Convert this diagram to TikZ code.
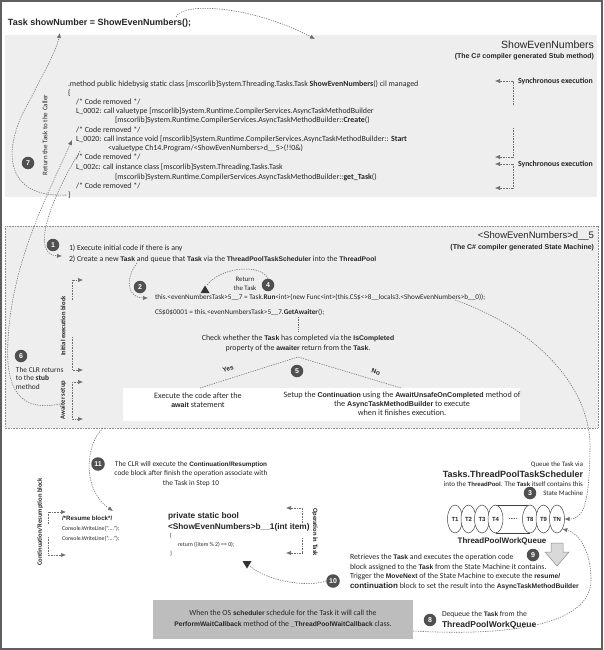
\documentclass[tikz,border=0pt]{standalone}
\usepackage{fontspec}
\setmainfont{Carlito}
\newfontfamily\arl{Liberation Sans}
\newfontfamily\arlk[Scale=0.86]{Liberation Sans}
\usetikzlibrary{arrows.meta,shapes.geometric}
\newcommand\kb[1]{{\arlk\bfseries #1}}
\definecolor{framec}{HTML}{5F5F5F}
\definecolor{panel}{HTML}{EEEEEE}
\definecolor{badgec}{HTML}{505050}
\definecolor{linec}{HTML}{6E6E6E}
\definecolor{txt}{HTML}{262626}
\definecolor{greybox}{HTML}{BDBDBD}
\tikzset{
 every node/.style={inner sep=0pt, outer sep=0pt, text=txt},
 code/.style={anchor=west, font=\fontsize{7.9}{8}\selectfont},
 smallcode/.style={anchor=west, font=\fontsize{5.8}{7}\selectfont},
 badge/.style={circle, fill=badgec, text=white, minimum size=12.5pt, inner sep=0pt, font=\arl\bfseries\fontsize{7}{7}\selectfont},
 conn/.style={draw=linec, line width=0.55pt, dash pattern=on 1.3pt off 1.1pt, -{Latex[length=5pt,width=4.2pt]}},
 plainconn/.style={draw=linec, line width=0.55pt, dash pattern=on 1.3pt off 1.1pt},
 brk/.style={draw=linec, line width=0.55pt, dash pattern=on 0.8pt off 0.8pt},
 brkarrow/.style={brk, -{Latex[length=5pt,width=4.2pt]}},
 vlab/.style={font=\bfseries\fontsize{6.6}{7}\selectfont},
 qell/.style={ellipse, draw=black!75, fill=white, line width=0.5pt, minimum width=15pt, minimum height=28pt, inner sep=0pt, font=\arl\bfseries\fontsize{6}{6}\selectfont},
}
\begin{document}
\begin{tikzpicture}[x=1pt,y=-1pt]
\useasboundingbox (0,0) rectangle (603,650);
\fill[white] (0,0) rectangle (603,650);
\draw[framec, line width=1.6pt] (1,1) rectangle (602,649);

% ---------------- stub panel
\fill[panel] (5,35) rectangle (597,197);
\node[font=\arl\bfseries\fontsize{9}{10}\selectfont, anchor=west] (title) at (8,23) {Task showNumber = ShowEvenNumbers();};
\node[font=\arl\fontsize{10.5}{11}\selectfont, anchor=east] (stubtitle) at (594,45) {ShowEvenNumbers};
\node[font=\arl\bfseries\fontsize{7}{8}\selectfont, anchor=east] (stubsub) at (594,57) {(The C\# compiler generated Stub method)};

\node[code] (c1) at (68,84) {.method public hidebysig static class [mscorlib]System.Threading.Tasks.Task \textbf{ShowEvenNumbers}() cil managed};
\node[code] (c2) at (68,93) {\{};
\node[code] (c3) at (76,102) {/* Code removed */};
\node[code] (c4) at (76,111) {L\_0002: call valuetype [mscorlib]System.Runtime.CompilerServices.AsyncTaskMethodBuilder};
\node[code] (c5) at (115,120) {[mscorlib]System.Runtime.CompilerServices.AsyncTaskMethodBuilder::\textbf{Create}()};
\node[code] (c6) at (76,130) {/* Code removed */};
\node[code] (c7) at (76,139) {L\_0020: call instance void [mscorlib]System.Runtime.CompilerServices.AsyncTaskMethodBuilder:: \textbf{Start}};
\node[code] (c8) at (108,148) {<valuetype Ch14.Program/<ShowEvenNumbers>d\_\_5>(!!0\&)};
\node[code] (c9) at (76,157) {/* Code removed */};
\node[code] (c10) at (76,167) {L\_002c: call instance class [mscorlib]System.Threading.Tasks.Task};
\node[code] (c11) at (115,177) {[mscorlib]System.Runtime.CompilerServices.AsyncTaskMethodBuilder::\textbf{get\_Task}()};
\node[code] (c12) at (76,186) {/* Code removed */};
\node[code] (c13) at (68,195) {\}};

\node[font=\bfseries\fontsize{7.8}{8}\selectfont, anchor=west] (sync1) at (518,81) {Synchronous execution};
\node[font=\bfseries\fontsize{7.8}{8}\selectfont, anchor=west] (sync2) at (518,164) {Synchronous execution};
\draw[brkarrow] (513,105) -- (513,81) -- (495,81);
\draw[brkarrow] (513,128) -- (513,157) -- (495,157);
\draw[brkarrow] (513,164) -- (495,164);
\draw[brkarrow] (513,164) -- (513,188) -- (495,188);

\node[rotate=90, font=\fontsize{7}{8}\selectfont] (rettask) at (45,135) {Return the Task to the Caller};
\node[badge] (b7) at (28,163) {7};

% ---------------- state machine panel
\draw[draw=black!45, fill=panel, dash pattern=on 0.8pt off 0.8pt, line width=0.5pt] (5,226) rectangle (598,428);
\node[font=\arl\fontsize{9.5}{10}\selectfont, anchor=east] (smtitle) at (594,236) {<ShowEvenNumbers>d\_\_5};
\node[font=\arl\bfseries\fontsize{7}{8}\selectfont, anchor=east] (smsub) at (594,248) {(The C\# compiler generated State Machine)};

\node[badge] (b1) at (53,245) {1};
\node[anchor=west, font=\fontsize{7.8}{8}\selectfont] (s1) at (69,248) {1) Execute initial code if there is any};
\node[anchor=west, font=\fontsize{7.8}{8}\selectfont] (s2) at (69,259) {2) Create a new \kb{Task} and queue that \kb{Task} via the \kb{ThreadPoolTaskScheduler} into the \kb{ThreadPool}};

\node[badge] (b2) at (140,287) {2};
\node[badge] (b4) at (268,285) {4};
\node[align=center, font=\fontsize{6.8}{8.8}\selectfont] (rtn) at (245,284) {Return\\the Task};
\fill[black!80] (200.5,293) -- (209.5,293) -- (205,285.5) -- cycle;
\coordinate (tri4) at (207,285);
\node[anchor=west, font=\fontsize{7.2}{8}\selectfont] (runl) at (155,297) {this.<evenNumbersTask>5\_\_7 = Task.\textbf{Run}<int>(new Func<int>(this.CS\$<>8\_\_locals3.<ShowEvenNumbers>b\_\_0));};
\node[anchor=west, font=\fontsize{7.2}{8}\selectfont] (awl) at (155,312) {CS\$0\$0001 = this.<evenNumbersTask>5\_\_7.\textbf{GetAwaiter}();};

\draw[plainconn] (298,317) -- (298,332);
\node[align=center, font=\fontsize{7.9}{10}\selectfont] (check) at (298,343) {Check whether the \kb{Task} has completed via the \kb{IsCompleted}\\property of the \kb{awaiter} return from the \kb{Task}.};

\fill[white] (123,388) rectangle (520,421);
\coordinate (apex) at (298,357);
\coordinate (yesend) at (200,388);
\coordinate (noend) at (401,388);
\draw[plainconn] (yesend) -- (apex) -- (noend);
\node[badge] (b5) at (297,371) {5};
\node[rotate=17, font=\arl\bfseries\fontsize{6.5}{7}\selectfont] (yes) at (228,369) {Yes};
\node[rotate=-17, font=\arl\bfseries\fontsize{6.5}{7}\selectfont] (no) at (376,372) {No};
\node[align=center, font=\fontsize{8.2}{9}\selectfont] (exec) at (198,400) {Execute the code after the\\\kb{await} statement};
\node[align=center, font=\fontsize{8.2}{9}\selectfont] (setup) at (402,404) {Setup the \kb{Continuation} using the \kb{AwaitUnsafeOnCompleted} method of\\the \kb{AsyncTaskMethodBuilder} to execute\\when it finishes execution.};

% brackets left
\draw[brkarrow] (72,300) -- (72,280) -- (83,280);
\draw[brkarrow] (72,337) -- (72,370) -- (83,370);
\node[rotate=90, vlab] (initlab) at (63,326) {Initial execution block};
\draw[brkarrow] (72,382) -- (83,382);
\draw[brkarrow] (72,382) -- (72,419) -- (83,419);
\node[rotate=90, vlab] (awlab) at (63,400) {Awaiter setup};

\node[badge] (b6) at (21,356) {6};
\node[anchor=north west, align=left, font=\fontsize{7.4}{8.7}\selectfont] (clr) at (16,367) {The CLR returns\\to the \textbf{stub}\\method};

% ---------------- lower area
\node[badge, minimum size=13.5pt] (b11) at (98,464) {11};
\node[align=center, font=\fontsize{7.4}{9.5}\selectfont] (s11) at (191,474) {The CLR will execute the \kb{Continuation/Resumption}\\code block after finish the operation associate with\\the Task in Step 10};

\node[rotate=90, vlab] (contlab) at (40,522) {Continuation/Resumption block};
\draw[brkarrow] (48,524) -- (48,512) -- (66,512);
\draw[brkarrow] (48,537) -- (48,555) -- (66,555);
\node[anchor=west, font=\arl\bfseries\fontsize{6.2}{7}\selectfont] (rb1) at (62,518) {/*Resume block*/};
\node[smallcode] (rb2) at (62,529) {Console.WriteLine(``....'');};
\node[smallcode] (rb3) at (62,539) {Console.WriteLine(``....'');};

\node[anchor=west, font=\arl\bfseries\fontsize{8.3}{9}\selectfont] (op1) at (168,516) {private static bool};
\node[anchor=west, font=\arl\bfseries\fontsize{8.3}{9}\selectfont] (op2) at (168,527) {<ShowEvenNumbers>b\_\_1(int item)};
\node[smallcode] (op3) at (170,536) {\{};
\node[smallcode] (op4) at (178,545) {return ((item \% 2) == 0);};
\node[smallcode] (op5) at (170,554) {\}};
\draw[brkarrow] (302,523) -- (302,508) -- (286,508);
\draw[brkarrow] (302,538) -- (302,553) -- (286,553);
\node[rotate=-90, vlab] (oplab) at (315,532) {Operation in Task};
\fill[black!80] (242.5,561) -- (251.5,561) -- (247,568.5) -- cycle;
\coordinate (tri10) at (250,566);

% queue
\node[anchor=east, font=\fontsize{6.8}{7}\selectfont] (q1) at (583,465) {Queue the Task via};
\node[anchor=east, font=\arl\bfseries\fontsize{9}{9}\selectfont] (q2) at (583,474.5) {Tasks.ThreadPoolTaskScheduler};
\node[anchor=east, font=\fontsize{7}{7}\selectfont] (q3) at (583,484) {into the \kb{ThreadPool}. The \kb{Task} itself contains this};
\node[anchor=east, font=\fontsize{6.8}{7}\selectfont] (q4) at (583,493) {State Machine};
\node[badge] (b3) at (530,493) {3};

\draw[black!75, line width=0.5pt] (495.5,505) -- (530,505);
\draw[black!75, line width=0.5pt] (495.5,533) -- (530,533);
\node[qell] (t1) at (455,519) {T1};
\node[qell] (t2) at (468.5,519) {T2};
\node[qell] (t3) at (482,519) {T3};
\node[qell] (t4) at (495.5,519) {T4};
\node[font=\arl\bfseries\fontsize{6}{6}\selectfont] (tdots) at (513,519) {.....};
\node[qell] (t8) at (530,519) {T8};
\node[qell] (t9) at (543.5,519) {T9};
\node[qell] (tn) at (557,519) {TN};
\node[font=\arl\bfseries\fontsize{8}{8}\selectfont] (wq) at (502,541) {ThreadPoolWorkQueue};

\filldraw[fill=black!15, draw=black!45, line width=0.5pt] (551,543) -- (563,543) -- (563,552) -- (569,552) -- (557,566) -- (545,552) -- (551,552) -- cycle;
\node[badge] (b9) at (533,555) {9};

\node[anchor=west, font=\fontsize{7.8}{8}\selectfont] (r1) at (350,557) {Retrieves the \kb{Task} and executes the operation code};
\node[anchor=west, font=\fontsize{7.8}{8}\selectfont] (r2) at (350,567) {block assigned to the \kb{Task} from the State Machine it contains.};
\node[anchor=west, font=\fontsize{7.8}{8}\selectfont] (r3) at (350,576.5) {Trigger the \kb{MoveNext} of the State Machine to execute the \kb{resume/}};
\node[anchor=west, font=\fontsize{7.8}{8}\selectfont] (r4) at (350,586.5) {{\arl\bfseries\fontsize{8}{8}\selectfont continuation} block to set the result into the \kb{AsyncTaskMethodBuilder}};
\node[badge, minimum size=13.5pt] (b10) at (333,581) {10};

\fill[greybox] (153,600) rectangle (413,639);
\node[align=center, font=\fontsize{7.8}{11}\selectfont] (os) at (283,619) {When the OS \kb{scheduler} schedule for the Task it will call the\\\kb{PerformWaitCallback} method of the \kb{\_ThreadPoolWaitCallback} class.};
\node[badge] (b8) at (430,620) {8};
\node[anchor=west, font=\fontsize{7.6}{8}\selectfont] (d1) at (442,614) {Dequeue the \kb{Task} from the};
\node[anchor=west, font=\arl\bfseries\fontsize{8.5}{9}\selectfont] (d2) at (442,625) {ThreadPoolWorkQueue};

% ---------------- connectors
\coordinate (titletop) at (176,17);
\coordinate (stubin) at (315,39);
\draw[conn] (titletop) .. controls (182,2) and (250,5) .. (stubin);

\coordinate (closebr) at (66,195);
\coordinate (titlebot) at (60,33);
\draw[conn] (closebr) .. controls (5,198) and (0,150) .. (30,100) .. controls (42,75) and (55,55) .. (titlebot);

\coordinate (startcall) at (80,151);
\coordinate (in1) at (62,256);
\draw[conn] (startcall) .. controls (50,200) and (30,255) .. (in1);

\coordinate (awout) at (60,404);
\coordinate (l20) at (72,140);
\draw[conn] (awout) .. controls (20,412) and (5,390) .. (8,340) .. controls (12,260) and (50,190) .. (l20);

\coordinate (crt) at (137,263);
\coordinate (in2) at (148,298);
\draw[conn] (crt) .. controls (124,280) and (128,298) .. (in2);

\draw[plainconn] (b4.north) .. controls (262,264) and (222,266) .. (tri4);

\coordinate (runend) at (455,300);
\draw[conn] (runend) .. controls (540,330) and (592,390) .. (590,450) .. controls (589,500) and (585,519) .. (tn.east);

\coordinate (smout) at (103,428);
\coordinate (resin) at (113,511);
\draw[conn] (smout) .. controls (85,445) and (82,490) .. (resin);

\draw[plainconn] (b10.west) .. controls (305,588) and (265,580) .. (tri10);

\coordinate (osout) at (413,631);
\draw[conn] (osout) .. controls (520,637) and (593,622) .. (591,578) .. controls (590,548) and (578,533) .. (tn.south east);
\end{tikzpicture}
\end{document}
